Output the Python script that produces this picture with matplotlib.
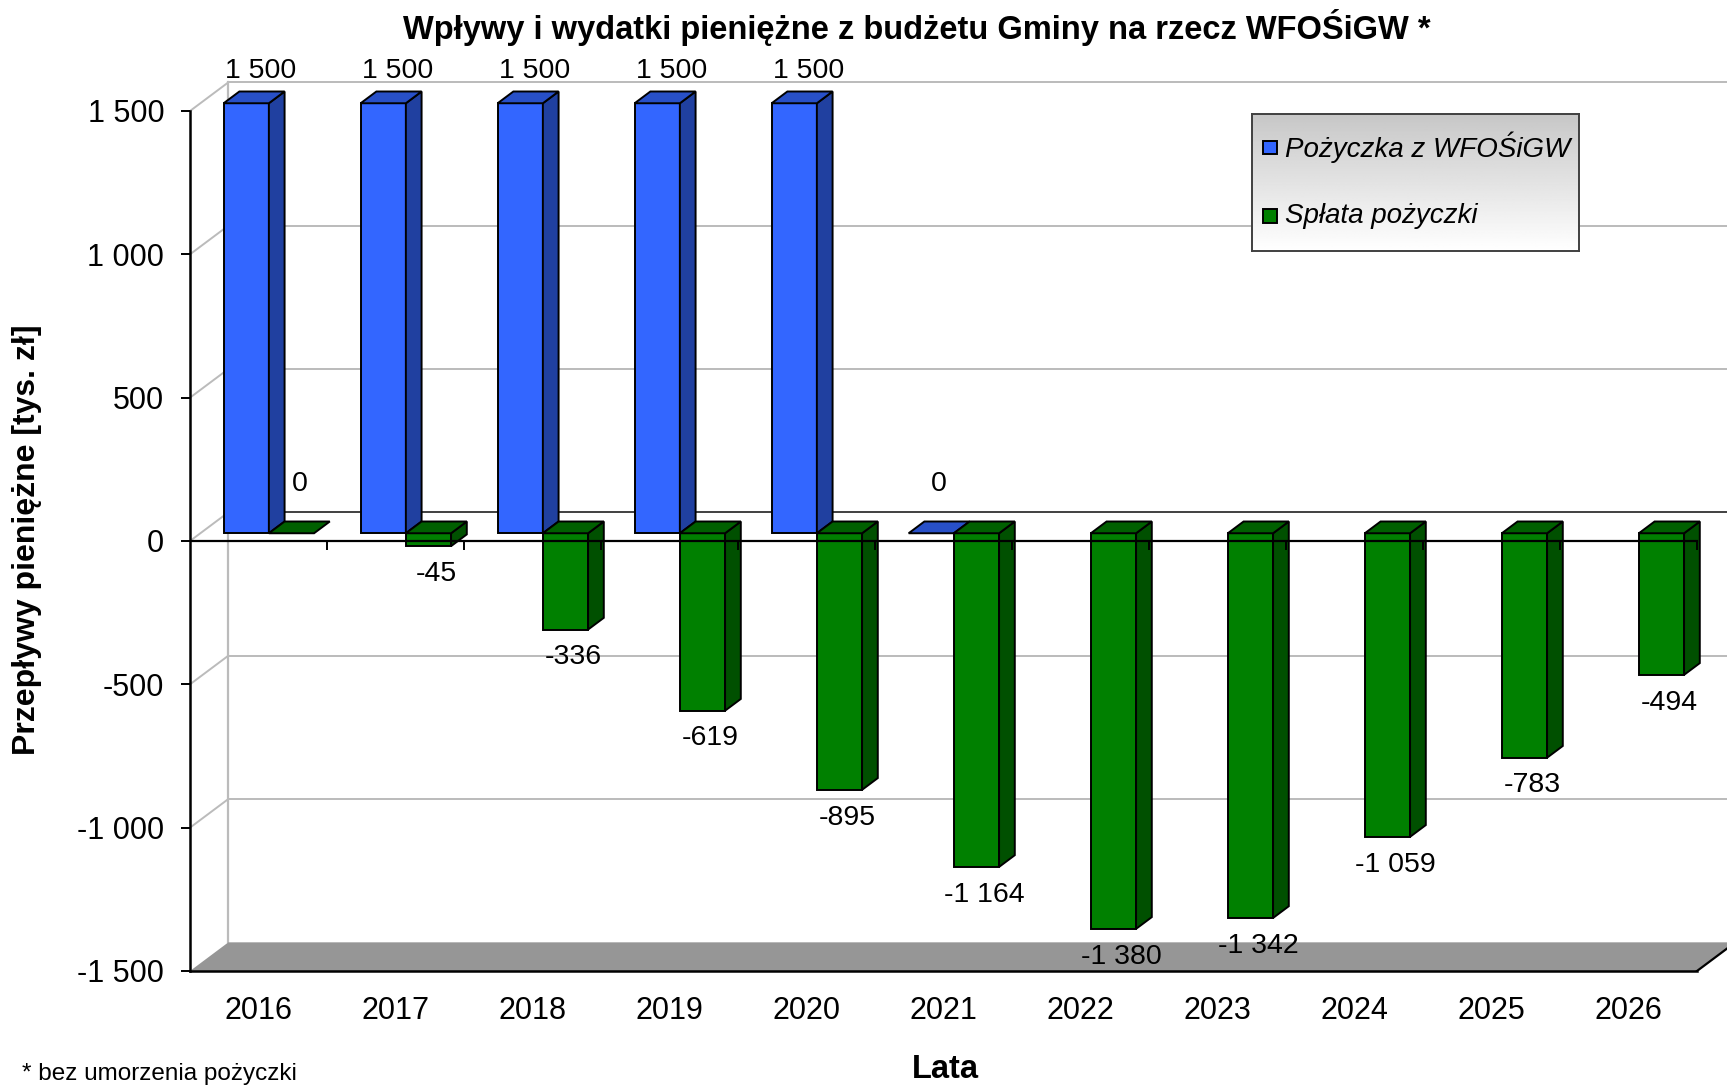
import numpy as np
import matplotlib
matplotlib.use('Agg')
import matplotlib.pyplot as plt
from matplotlib.patches import Polygon, Rectangle

plt.rcParams['font.family'] = ['Liberation Sans', 'DejaVu Sans']

# dane (tys. zl)
years = ['2016', '2017', '2018', '2019', '2020', '2021',
         '2022', '2023', '2024', '2025', '2026']
pozyczka = [1500, 1500, 1500, 1500, 1500, 0,
            np.nan, np.nan, np.nan, np.nan, np.nan]
splata = [0, -45, -336, -619, -895, -1164, -1380, -1342, -1059, -783, -494]

yticks = [-1500, -1000, -500, 0, 500, 1000, 1500]
yticklabels = ['-1 500', '-1 000', '-500', '0', '500', '1 000', '1 500']

title = 'Wpływy i wydatki pieniężne z budżetu Gminy na rzecz WFOŚiGW *'
ylabel = 'Przepływy pieniężne [tys. zł]'
xlabel = 'Lata'
note = '* bez umorzenia pożyczki'
series = ['Pożyczka z WFOŚiGW', 'Spłata pożyczki']

# kolory: front, bok, gora
blue = ('#3366FF', '#2040A0', '#2850C8')
green = ('#008000', '#005000', '#006000')

# geometria "3D" w jednostkach danych
DX, DY = 0.28, 100.0      # glebokosc calej sceny
F0, F1 = 0.27, 0.68       # przod / tyl slupkow (ulamek glebokosci)
W = 0.33                  # szerokosc slupka
ymin, ymax = -1500, 1500


def fmt(v):
    return f'{v:,.0f}'.replace(',', ' ')


def bar3d(ax, xl, v, cols, z):
    x0 = xl + F0 * DX
    x1 = x0 + W
    b = F0 * DY
    ddx = (F1 - F0) * DX
    ddy = (F1 - F0) * DY
    lo, hi = min(v, 0) + b, max(v, 0) + b
    kw = dict(edgecolor='black', linewidth=1.4, joinstyle='miter', zorder=z)
    if v != 0:
        ax.add_patch(Polygon([(x0, lo), (x1, lo), (x1, hi), (x0, hi)],
                             facecolor=cols[0], **kw))
        ax.add_patch(Polygon([(x1, lo), (x1 + ddx, lo + ddy),
                              (x1 + ddx, hi + ddy), (x1, hi)],
                             facecolor=cols[1], **kw))
    ax.add_patch(Polygon([(x0, hi), (x1, hi), (x1 + ddx, hi + ddy),
                          (x0 + ddx, hi + ddy)], facecolor=cols[2], **kw))
    # etykieta
    xt = x0 + W / 2 + ddx / 2
    if v > 0:
        ax.annotate(fmt(v), (xt, hi + ddy), xytext=(5, 15),
                    textcoords='offset points', ha='center', va='center',
                    fontsize=20.5, zorder=20)
    elif v == 0:
        ax.annotate(fmt(v), (xt, hi + ddy), xytext=(0, 27),
                    textcoords='offset points', ha='center', va='center',
                    fontsize=20.5, zorder=20)
    else:
        ax.annotate(fmt(v), (xt, lo), xytext=(0, -20),
                    textcoords='offset points', ha='center', va='center',
                    fontsize=20.5, zorder=20)


fig = plt.figure(figsize=(17.27, 10.86), dpi=100)
ax = fig.add_axes([190 / 1727, 115 / 1086, 1537 / 1727, 901 / 1086])
n = len(years)
ax.set_xlim(-0.5, -0.5 + 1537 / 137)
ax.set_ylim(ymin, ymin + 901 / 0.28667)

xr = ax.get_xlim()[1] + 1
# tylna sciana i siatka
for v in yticks[1:]:
    c = '#404040' if v == 0 else '#BBBBBB'
    ax.plot([-0.5 + DX, xr], [v + DY, v + DY], color=c, lw=1.4, zorder=1)
    ax.plot([-0.5, -0.5 + DX], [v, v + DY], color='#BBBBBB', lw=1.4, zorder=1)
ax.plot([-0.5 + DX, -0.5 + DX], [ymin + DY, ymax + DY], color='#BBBBBB',
        lw=1.6, zorder=1)

# podloga
ax.add_patch(Polygon([(-0.5, ymin), (n - 0.5, ymin), (n - 0.5 + DX, ymin + DY),
                      (-0.5 + DX, ymin + DY)], facecolor='#969696',
                     edgecolor='none', zorder=2))
ax.plot([n - 0.5, n - 0.5 + DX], [ymin, ymin + DY], color='black', lw=1.6,
        zorder=3)

# slupki
for i in range(n):
    if not np.isnan(pozyczka[i]):
        bar3d(ax, i - W, pozyczka[i], blue, 5 + 2 * i)
    bar3d(ax, i, splata[i], green, 6 + 2 * i)

# os kategorii na poziomie 0
ax.plot([-0.5, n - 0.5], [0, 0], color='black', lw=1.6, zorder=40)
ax.vlines(np.arange(n + 1) - 0.5, -30, 0, color='black', lw=1.4, zorder=40)

# osie
for s in ['top', 'right']:
    ax.spines[s].set_visible(False)
ax.spines['left'].set_bounds(ymin, ymax)
ax.spines['bottom'].set_bounds(-0.5, n - 0.5)
for s in ['left', 'bottom']:
    ax.spines[s].set_linewidth(1.8)
    ax.spines[s].set_zorder(41)
ax.set_yticks(yticks)
ax.set_yticklabels(yticklabels, fontsize=22)
ax.set_xticks(range(n))
ax.set_xticklabels(years, fontsize=22)
ax.tick_params(axis='y', length=6.5, width=1.4, pad=12)
ax.tick_params(axis='x', length=0, pad=18)
ax.patch.set_visible(False)

fig.text(917 / 1727, 1 - 27 / 1086, title, ha='center', va='center',
         fontsize=23.5, fontweight='bold')
fig.text(27 / 1727, 1 - 540 / 1086, ylabel, ha='center', va='center',
         rotation=90, fontsize=23, fontweight='bold')
fig.text(945 / 1727, 1 - 1070 / 1086, xlabel, ha='center', va='center',
         fontsize=23.5, fontweight='bold')
fig.text(22 / 1727, 1 - 1074 / 1086, note, ha='left', va='center',
         fontsize=17.5)

# legenda
lax = fig.add_axes([1252 / 1727, 1 - 251 / 1086, 327 / 1727, 137 / 1086])
grad = np.linspace(0.78, 1.0, 100).reshape(-1, 1)
lax.imshow(grad, cmap='gray', vmin=0, vmax=1, aspect='auto',
           extent=(0, 1, 0, 1), origin='upper')
lax.set_xlim(0, 1)
lax.set_ylim(0, 1)
lax.set_xticks([])
lax.set_yticks([])
for s in lax.spines.values():
    s.set_color('#404040')
    s.set_linewidth(1.4)
for k, (lab, col) in enumerate(zip(series, [blue[0], green[0]])):
    yy = 0.755 - k * 0.5
    lax.add_patch(Rectangle((0.034, yy - 0.05), 0.043, 0.1, facecolor=col,
                            edgecolor='black', lw=1.4))
    lax.text(0.1, yy, lab, ha='left', va='center', fontsize=20,
             style='italic')

fig.savefig('out.png', dpi=100)
